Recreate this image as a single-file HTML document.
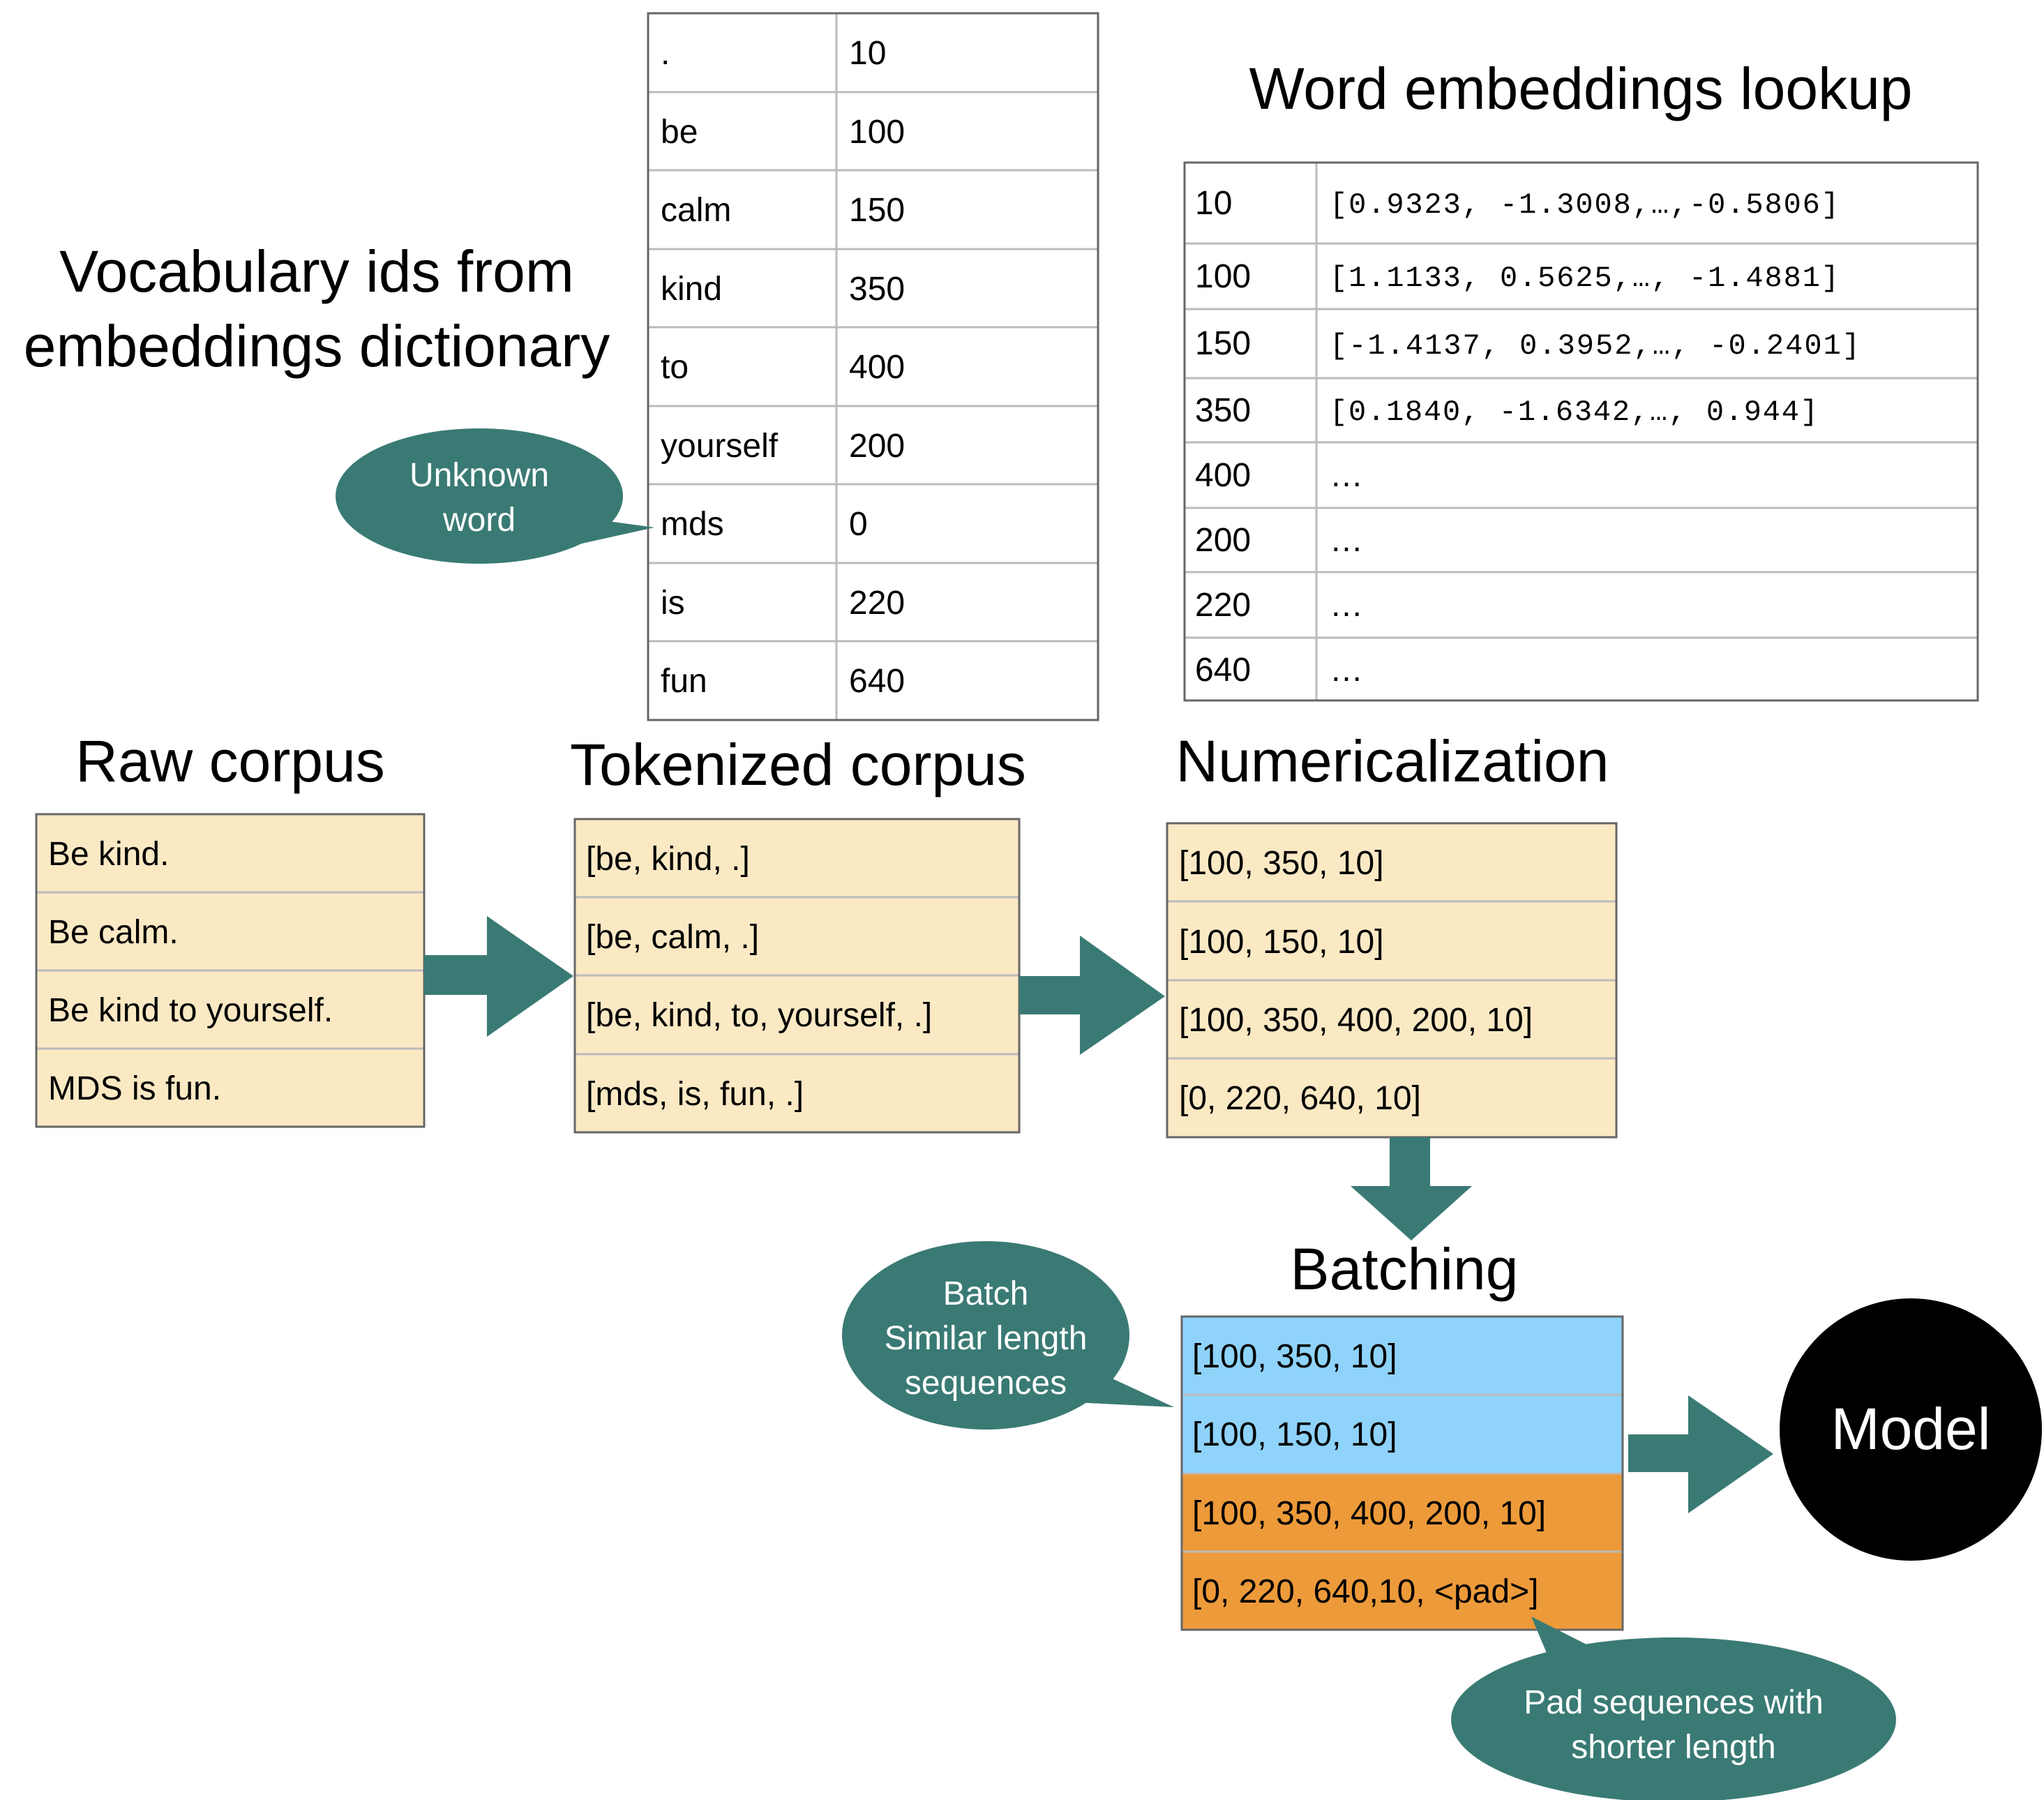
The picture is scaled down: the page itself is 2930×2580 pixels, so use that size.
<!DOCTYPE html>
<html><head><meta charset="utf-8"><style>html,body{margin:0;padding:0;background:#fff}svg{display:block}</style></head>
<body>
<svg width="2930" height="2580" viewBox="0 0 2930 2580" xmlns="http://www.w3.org/2000/svg" font-family="Liberation Sans, sans-serif">
<rect width="2930" height="2580" fill="#fff"/>
<!-- Titles -->
<g font-size="84" fill="#000" text-anchor="middle">
<text x="454" y="418">Vocabulary ids from</text>
<text x="454" y="525">embeddings dictionary</text>
<text x="2266" y="156">Word embeddings lookup</text>
<text x="330" y="1120">Raw corpus</text>
<text x="1144" y="1125">Tokenized corpus</text>
<text x="1996" y="1120">Numericalization</text>
<text x="2013" y="1848">Batching</text>
</g>
<!-- Vocab table -->
<g stroke="#bbb" stroke-width="3">
<line x1="929" y1="132" x2="1574" y2="132"/><line x1="929" y1="244" x2="1574" y2="244"/>
<line x1="929" y1="357" x2="1574" y2="357"/><line x1="929" y1="469" x2="1574" y2="469"/>
<line x1="929" y1="582" x2="1574" y2="582"/><line x1="929" y1="694" x2="1574" y2="694"/>
<line x1="929" y1="807" x2="1574" y2="807"/><line x1="929" y1="919" x2="1574" y2="919"/>
<line x1="1199" y1="19" x2="1199" y2="1032"/>
</g>
<rect x="929" y="19" width="645" height="1013" fill="none" stroke="#666" stroke-width="3"/>
<g font-size="48" fill="#000">
<text x="947" y="92">.</text><text x="1217" y="92">10</text>
<text x="947" y="205">be</text><text x="1217" y="205">100</text>
<text x="947" y="317">calm</text><text x="1217" y="317">150</text>
<text x="947" y="430">kind</text><text x="1217" y="430">350</text>
<text x="947" y="542">to</text><text x="1217" y="542">400</text>
<text x="947" y="655">yourself</text><text x="1217" y="655">200</text>
<text x="947" y="767">mds</text><text x="1217" y="767">0</text>
<text x="947" y="880">is</text><text x="1217" y="880">220</text>
<text x="947" y="992">fun</text><text x="1217" y="992">640</text>
</g>
<!-- Embedding table -->
<g stroke="#bbb" stroke-width="3">
<line x1="1698" y1="349" x2="2835" y2="349"/><line x1="1698" y1="443" x2="2835" y2="443"/>
<line x1="1698" y1="542" x2="2835" y2="542"/><line x1="1698" y1="634" x2="2835" y2="634"/>
<line x1="1698" y1="728" x2="2835" y2="728"/><line x1="1698" y1="820" x2="2835" y2="820"/>
<line x1="1698" y1="914" x2="2835" y2="914"/><line x1="1887" y1="233" x2="1887" y2="1004"/>
</g>
<rect x="1698" y="233" width="1137" height="771" fill="none" stroke="#666" stroke-width="3"/>
<g font-size="48" fill="#000">
<text x="1713" y="307">10</text><text x="1713" y="412">100</text><text x="1713" y="508">150</text>
<text x="1713" y="604">350</text><text x="1713" y="697">400</text><text x="1713" y="790">200</text>
<text x="1713" y="883">220</text><text x="1713" y="976">640</text>
<text x="1906" y="697">…</text><text x="1906" y="790">…</text><text x="1906" y="883">…</text><text x="1906" y="976">…</text>
</g>
<g font-family="Liberation Mono, monospace" font-size="42" fill="#000">
<text x="1906" y="305" textLength="730">[0.9323, -1.3008,…,-0.5806]</text>
<text x="1906" y="410" textLength="730">[1.1133, 0.5625,…, -1.4881]</text>
<text x="1906" y="507" textLength="760">[-1.4137, 0.3952,…, -0.2401]</text>
<text x="1906" y="602" textLength="700">[0.1840, -1.6342,…, 0.944]</text>
</g>
<!-- Unknown word bubble -->
<g fill="#3a7a74">
<ellipse cx="687" cy="711" rx="206" ry="97"/>
<polygon points="820,740 938,756 830,780"/>
</g>
<g font-size="48" fill="#fff" text-anchor="middle">
<text x="687" y="697">Unknown</text><text x="687" y="761">word</text>
</g>
<!-- Raw corpus box -->
<rect x="52" y="1167" width="556" height="448" fill="#fbe9c4"/>
<g stroke="#bbb" stroke-width="3"><line x1="52" y1="1279" x2="608" y2="1279"/><line x1="52" y1="1391" x2="608" y2="1391"/><line x1="52" y1="1503" x2="608" y2="1503"/></g>
<rect x="52" y="1167" width="556" height="448" fill="none" stroke="#666" stroke-width="3"/>
<g font-size="48" fill="#000">
<text x="69" y="1240">Be kind.</text><text x="69" y="1352">Be calm.</text>
<text x="69" y="1464">Be kind to yourself.</text><text x="69" y="1576">MDS is fun.</text>
</g>
<!-- Tokenized box -->
<rect x="824" y="1174" width="637" height="449" fill="#fbe9c4"/>
<g stroke="#bbb" stroke-width="3"><line x1="824" y1="1286" x2="1461" y2="1286"/><line x1="824" y1="1398" x2="1461" y2="1398"/><line x1="824" y1="1511" x2="1461" y2="1511"/></g>
<rect x="824" y="1174" width="637" height="449" fill="none" stroke="#666" stroke-width="3"/>
<g font-size="48" fill="#000">
<text x="840" y="1247">[be, kind, .]</text><text x="840" y="1359">[be, calm, .]</text>
<text x="840" y="1471">[be, kind, to, yourself, .]</text><text x="840" y="1584">[mds, is, fun, .]</text>
</g>
<!-- Numericalization box -->
<rect x="1673" y="1180" width="644" height="450" fill="#fbe9c4"/>
<g stroke="#bbb" stroke-width="3"><line x1="1673" y1="1292" x2="2317" y2="1292"/><line x1="1673" y1="1405" x2="2317" y2="1405"/><line x1="1673" y1="1517" x2="2317" y2="1517"/></g>
<rect x="1673" y="1180" width="644" height="450" fill="none" stroke="#666" stroke-width="3"/>
<g font-size="48" fill="#000">
<text x="1690" y="1253">[100, 350, 10]</text><text x="1690" y="1366">[100, 150, 10]</text>
<text x="1690" y="1478">[100, 350, 400, 200, 10]</text><text x="1690" y="1590">[0, 220, 640, 10]</text>
</g>
<!-- Batching box -->
<rect x="1694" y="1887" width="632" height="225" fill="#8fd3fb"/>
<rect x="1694" y="2112" width="632" height="224" fill="#ed9a3a"/>
<g stroke="#bbb" stroke-width="3"><line x1="1694" y1="1999" x2="2326" y2="1999"/><line x1="1694" y1="2112" x2="2326" y2="2112"/><line x1="1694" y1="2224" x2="2326" y2="2224"/></g>
<rect x="1694" y="1887" width="632" height="449" fill="none" stroke="#666" stroke-width="3"/>
<g font-size="48" fill="#000">
<text x="1709" y="1960">[100, 350, 10]</text><text x="1709" y="2072">[100, 150, 10]</text>
<text x="1709" y="2185">[100, 350, 400, 200, 10]</text><text x="1709" y="2297">[0, 220, 640,10, &lt;pad&gt;]</text>
</g>
<!-- Arrows -->
<g fill="#3a7a74">
<polygon points="608,1369 698,1369 698,1313 822,1399 698,1486 698,1426 608,1426"/>
<polygon points="1461,1399 1548,1399 1548,1341 1670,1428 1548,1512 1548,1454 1461,1454"/>
<polygon points="1992,1630 2050,1630 2050,1700 2110,1700 2023,1778 1936,1700 1992,1700"/>
<polygon points="2334,2056 2420,2056 2420,2000 2542,2084 2420,2169 2420,2110 2334,2110"/>
</g>
<!-- Model -->
<circle cx="2739" cy="2049" r="188" fill="#000"/>
<text x="2739" y="2077" font-size="84" fill="#fff" text-anchor="middle">Model</text>
<!-- Batch bubble -->
<g fill="#3a7a74">
<ellipse cx="1413" cy="1914" rx="206" ry="135"/>
<polygon points="1560,1960 1683,2017 1540,2010"/>
<ellipse cx="2399" cy="2465" rx="319" ry="118"/>
<polygon points="2230,2400 2195,2317 2300,2370"/>
</g>
<g font-size="48" fill="#fff" text-anchor="middle">
<text x="1413" y="1870">Batch</text><text x="1413" y="1934">Similar length</text><text x="1413" y="1998">sequences</text>
<text x="2399" y="2456">Pad sequences with</text><text x="2399" y="2520">shorter length</text>
</g>
</svg>
</body></html>
